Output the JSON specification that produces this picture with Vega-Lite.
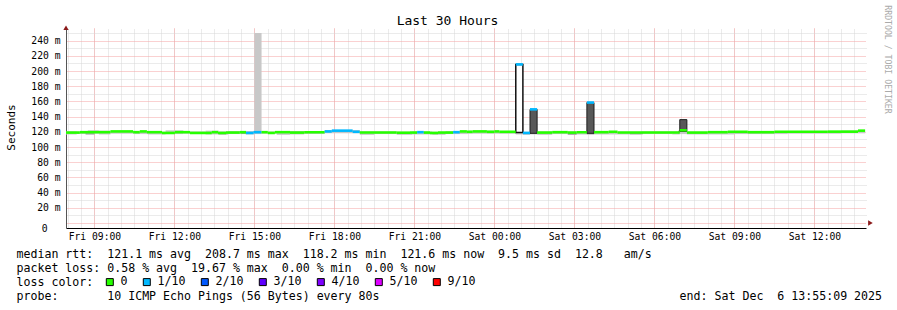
{
  "$schema": "https://vega.github.io/schema/vega-lite/v6.json",
  "width": 800,
  "height": 200,
  "autosize": "none",
  "padding": {"left": 66, "top": 28, "right": 31, "bottom": 82},
  "background": "white",
  "config": {"view": {"stroke": null}, "font": "DejaVu Sans Mono"},
  "datasets": {
    "smoke": [
      {"t0": "2025-12-05T07:56:00Z", "t1": "2025-12-05T08:20:00Z", "lo": 116.5, "hi": 120.5, "shade": "light"},
      {"t0": "2025-12-05T08:20:00Z", "t1": "2025-12-05T08:45:00Z", "lo": 117, "hi": 120, "shade": "light"},
      {"t0": "2025-12-05T08:45:00Z", "t1": "2025-12-05T09:10:00Z", "lo": 117.5, "hi": 122, "shade": "light"},
      {"t0": "2025-12-05T09:10:00Z", "t1": "2025-12-05T09:36:00Z", "lo": 116.5, "hi": 121.5, "shade": "light"},
      {"t0": "2025-12-05T09:36:00Z", "t1": "2025-12-05T10:30:00Z", "lo": 117.5, "hi": 121, "shade": "light"},
      {"t0": "2025-12-05T10:30:00Z", "t1": "2025-12-05T11:00:00Z", "lo": 117, "hi": 120.5, "shade": "light"},
      {"t0": "2025-12-05T11:00:00Z", "t1": "2025-12-05T11:40:00Z", "lo": 116.5, "hi": 120, "shade": "light"},
      {"t0": "2025-12-05T11:40:00Z", "t1": "2025-12-05T12:20:00Z", "lo": 117, "hi": 122, "shade": "light"},
      {"t0": "2025-12-05T12:20:00Z", "t1": "2025-12-05T13:10:00Z", "lo": 117.5, "hi": 120.5, "shade": "light"},
      {"t0": "2025-12-05T13:10:00Z", "t1": "2025-12-05T13:40:00Z", "lo": 116.5, "hi": 121.5, "shade": "light"},
      {"t0": "2025-12-05T13:40:00Z", "t1": "2025-12-05T14:00:00Z", "lo": 116, "hi": 120.5, "shade": "light"},
      {"t0": "2025-12-05T14:00:00Z", "t1": "2025-12-05T14:40:00Z", "lo": 117, "hi": 121, "shade": "light"},
      {"t0": "2025-12-05T14:40:00Z", "t1": "2025-12-05T15:00:00Z", "lo": 116.5, "hi": 121, "shade": "light"},
      {"t0": "2025-12-05T15:00:00Z", "t1": "2025-12-05T15:16:00Z", "lo": 117, "hi": 250, "shade": "light"},
      {"t0": "2025-12-05T15:16:00Z", "t1": "2025-12-05T15:50:00Z", "lo": 117.5, "hi": 120.5, "shade": "light"},
      {"t0": "2025-12-05T15:50:00Z", "t1": "2025-12-05T16:20:00Z", "lo": 116, "hi": 120.5, "shade": "light"},
      {"t0": "2025-12-05T16:20:00Z", "t1": "2025-12-05T16:52:00Z", "lo": 116.5, "hi": 121, "shade": "light"},
      {"t0": "2025-12-05T16:52:00Z", "t1": "2025-12-05T17:38:00Z", "lo": 117, "hi": 121, "shade": "light"},
      {"t0": "2025-12-05T17:38:00Z", "t1": "2025-12-05T18:57:00Z", "lo": 118, "hi": 122.5, "shade": "light"},
      {"t0": "2025-12-05T18:57:00Z", "t1": "2025-12-05T19:30:00Z", "lo": 116, "hi": 120.5, "shade": "light"},
      {"t0": "2025-12-05T19:30:00Z", "t1": "2025-12-05T20:20:00Z", "lo": 117, "hi": 120.5, "shade": "light"},
      {"t0": "2025-12-05T20:20:00Z", "t1": "2025-12-05T20:55:00Z", "lo": 116, "hi": 120, "shade": "light"},
      {"t0": "2025-12-05T20:55:00Z", "t1": "2025-12-05T21:40:00Z", "lo": 116.5, "hi": 120.5, "shade": "light"},
      {"t0": "2025-12-05T21:40:00Z", "t1": "2025-12-05T22:10:00Z", "lo": 116, "hi": 120, "shade": "light"},
      {"t0": "2025-12-05T22:10:00Z", "t1": "2025-12-05T23:00:00Z", "lo": 117, "hi": 121, "shade": "light"},
      {"t0": "2025-12-05T23:00:00Z", "t1": "2025-12-06T00:00:00Z", "lo": 117.5, "hi": 121.5, "shade": "light"},
      {"t0": "2025-12-06T00:00:00Z", "t1": "2025-12-06T00:48:00Z", "lo": 117.5, "hi": 121, "shade": "light"},
      {"t0": "2025-12-06T00:48:00Z", "t1": "2025-12-06T01:04:00Z", "lo": 116.5, "hi": 119.5, "shade": "light"},
      {"t0": "2025-12-06T01:04:00Z", "t1": "2025-12-06T01:20:00Z", "lo": 116, "hi": 120, "shade": "light"},
      {"t0": "2025-12-06T01:20:00Z", "t1": "2025-12-06T01:36:00Z", "lo": 116.5, "hi": 120, "shade": "light"},
      {"t0": "2025-12-06T01:36:00Z", "t1": "2025-12-06T02:10:00Z", "lo": 116, "hi": 120.5, "shade": "light"},
      {"t0": "2025-12-06T02:10:00Z", "t1": "2025-12-06T02:45:00Z", "lo": 117, "hi": 120.5, "shade": "light"},
      {"t0": "2025-12-06T02:45:00Z", "t1": "2025-12-06T03:05:00Z", "lo": 116, "hi": 120.5, "shade": "light"},
      {"t0": "2025-12-06T03:05:00Z", "t1": "2025-12-06T03:28:00Z", "lo": 116.5, "hi": 120.5, "shade": "light"},
      {"t0": "2025-12-06T03:28:00Z", "t1": "2025-12-06T03:44:00Z", "lo": 116, "hi": 120.5, "shade": "light"},
      {"t0": "2025-12-06T03:44:00Z", "t1": "2025-12-06T04:30:00Z", "lo": 116.5, "hi": 120.5, "shade": "light"},
      {"t0": "2025-12-06T04:30:00Z", "t1": "2025-12-06T05:30:00Z", "lo": 116.5, "hi": 120, "shade": "light"},
      {"t0": "2025-12-06T05:30:00Z", "t1": "2025-12-06T06:40:00Z", "lo": 117, "hi": 120.5, "shade": "light"},
      {"t0": "2025-12-06T06:40:00Z", "t1": "2025-12-06T06:57:00Z", "lo": 116.5, "hi": 120.5, "shade": "light"},
      {"t0": "2025-12-06T06:57:00Z", "t1": "2025-12-06T07:13:00Z", "lo": 117, "hi": 121, "shade": "light"},
      {"t0": "2025-12-06T07:13:00Z", "t1": "2025-12-06T08:00:00Z", "lo": 116.5, "hi": 120, "shade": "light"},
      {"t0": "2025-12-06T08:00:00Z", "t1": "2025-12-06T09:00:00Z", "lo": 116.5, "hi": 120.5, "shade": "light"},
      {"t0": "2025-12-06T09:00:00Z", "t1": "2025-12-06T10:00:00Z", "lo": 117, "hi": 120.5, "shade": "light"},
      {"t0": "2025-12-06T10:00:00Z", "t1": "2025-12-06T11:00:00Z", "lo": 117, "hi": 121, "shade": "light"},
      {"t0": "2025-12-06T11:00:00Z", "t1": "2025-12-06T12:00:00Z", "lo": 117.5, "hi": 121, "shade": "light"},
      {"t0": "2025-12-06T12:00:00Z", "t1": "2025-12-06T13:00:00Z", "lo": 117.5, "hi": 121, "shade": "light"},
      {"t0": "2025-12-06T13:00:00Z", "t1": "2025-12-06T13:54:00Z", "lo": 118, "hi": 121.5, "shade": "light"},
      {"t0": "2025-12-05T08:40:00Z", "t1": "2025-12-05T09:00:00Z", "lo": 116.5, "hi": 118, "shade": "dark"},
      {"t0": "2025-12-05T13:38:00Z", "t1": "2025-12-05T13:56:00Z", "lo": 117, "hi": 118.5, "shade": "dark"},
      {"t0": "2025-12-05T14:30:00Z", "t1": "2025-12-05T14:41:00Z", "lo": 117.5, "hi": 119, "shade": "dark"},
      {"t0": "2025-12-06T02:45:00Z", "t1": "2025-12-06T03:05:00Z", "lo": 116.5, "hi": 118, "shade": "dark"},
      {"t0": "2025-12-06T05:05:00Z", "t1": "2025-12-06T05:34:00Z", "lo": 116.8, "hi": 118, "shade": "dark"},
      {"t0": "2025-12-06T06:53:00Z", "t1": "2025-12-06T06:57:00Z", "lo": 118, "hi": 121.5, "shade": "dark"},
      {"t0": "2025-12-06T01:20:00Z", "t1": "2025-12-06T01:36:00Z", "lo": 118, "hi": 149.5, "shade": "spike"},
      {"t0": "2025-12-06T03:28:00Z", "t1": "2025-12-06T03:44:00Z", "lo": 118, "hi": 158.5, "shade": "spike"},
      {"t0": "2025-12-06T06:57:00Z", "t1": "2025-12-06T07:13:00Z", "lo": 120.5, "hi": 136, "shade": "spike"},
      {"t0": "2025-12-06T00:48:00Z", "t1": "2025-12-06T01:04:00Z", "lo": 119, "hi": 208.7, "shade": "outline"}
    ],
    "median": [
      {"t0": "2025-12-05T07:56:00Z", "t1": "2025-12-05T08:27:00Z", "ms": 119, "loss": "0"},
      {"t0": "2025-12-05T08:27:00Z", "t1": "2025-12-05T09:36:00Z", "ms": 119.5, "loss": "0"},
      {"t0": "2025-12-05T09:36:00Z", "t1": "2025-12-05T10:27:00Z", "ms": 120.5, "loss": "0"},
      {"t0": "2025-12-05T10:27:00Z", "t1": "2025-12-05T10:42:00Z", "ms": 119.5, "loss": "0"},
      {"t0": "2025-12-05T10:42:00Z", "t1": "2025-12-05T10:58:00Z", "ms": 120.5, "loss": "0"},
      {"t0": "2025-12-05T10:58:00Z", "t1": "2025-12-05T11:32:00Z", "ms": 119.5, "loss": "0"},
      {"t0": "2025-12-05T11:32:00Z", "t1": "2025-12-05T12:01:00Z", "ms": 118.5, "loss": "0"},
      {"t0": "2025-12-05T12:01:00Z", "t1": "2025-12-05T12:35:00Z", "ms": 119.5, "loss": "0"},
      {"t0": "2025-12-05T12:35:00Z", "t1": "2025-12-05T13:24:00Z", "ms": 118.5, "loss": "0"},
      {"t0": "2025-12-05T13:24:00Z", "t1": "2025-12-05T13:38:00Z", "ms": 119.5, "loss": "0"},
      {"t0": "2025-12-05T13:38:00Z", "t1": "2025-12-05T13:56:00Z", "ms": 118.5, "loss": "0"},
      {"t0": "2025-12-05T13:56:00Z", "t1": "2025-12-05T14:27:00Z", "ms": 119, "loss": "0"},
      {"t0": "2025-12-05T14:27:00Z", "t1": "2025-12-05T14:41:00Z", "ms": 119.5, "loss": "0"},
      {"t0": "2025-12-05T14:41:00Z", "t1": "2025-12-05T14:58:00Z", "ms": 118.5, "loss": "1/10"},
      {"t0": "2025-12-05T14:58:00Z", "t1": "2025-12-05T15:16:00Z", "ms": 119.5, "loss": "1/10"},
      {"t0": "2025-12-05T15:16:00Z", "t1": "2025-12-05T15:30:00Z", "ms": 119.5, "loss": "0"},
      {"t0": "2025-12-05T15:30:00Z", "t1": "2025-12-05T15:46:00Z", "ms": 118.5, "loss": "0"},
      {"t0": "2025-12-05T15:46:00Z", "t1": "2025-12-05T16:20:00Z", "ms": 119.5, "loss": "0"},
      {"t0": "2025-12-05T16:20:00Z", "t1": "2025-12-05T16:52:00Z", "ms": 119, "loss": "0"},
      {"t0": "2025-12-05T16:52:00Z", "t1": "2025-12-05T17:38:00Z", "ms": 119.5, "loss": "0"},
      {"t0": "2025-12-05T17:38:00Z", "t1": "2025-12-05T17:54:00Z", "ms": 120.5, "loss": "1/10"},
      {"t0": "2025-12-05T17:54:00Z", "t1": "2025-12-05T18:41:00Z", "ms": 121.5, "loss": "1/10"},
      {"t0": "2025-12-05T18:41:00Z", "t1": "2025-12-05T18:57:00Z", "ms": 120, "loss": "1/10"},
      {"t0": "2025-12-05T18:57:00Z", "t1": "2025-12-05T20:20:00Z", "ms": 119, "loss": "0"},
      {"t0": "2025-12-05T20:20:00Z", "t1": "2025-12-05T20:50:00Z", "ms": 118.8, "loss": "0"},
      {"t0": "2025-12-05T20:50:00Z", "t1": "2025-12-05T21:06:00Z", "ms": 119, "loss": "0"},
      {"t0": "2025-12-05T21:06:00Z", "t1": "2025-12-05T21:21:00Z", "ms": 119.5, "loss": "1/10"},
      {"t0": "2025-12-05T21:21:00Z", "t1": "2025-12-05T21:35:00Z", "ms": 119, "loss": "0"},
      {"t0": "2025-12-05T21:35:00Z", "t1": "2025-12-05T21:53:00Z", "ms": 118.5, "loss": "0"},
      {"t0": "2025-12-05T21:53:00Z", "t1": "2025-12-05T22:27:00Z", "ms": 119, "loss": "0"},
      {"t0": "2025-12-05T22:27:00Z", "t1": "2025-12-05T22:42:00Z", "ms": 119.5, "loss": "1/10"},
      {"t0": "2025-12-05T22:42:00Z", "t1": "2025-12-05T22:58:00Z", "ms": 120.5, "loss": "0"},
      {"t0": "2025-12-05T22:58:00Z", "t1": "2025-12-05T23:11:00Z", "ms": 120, "loss": "0"},
      {"t0": "2025-12-05T23:11:00Z", "t1": "2025-12-05T23:43:00Z", "ms": 120.5, "loss": "0"},
      {"t0": "2025-12-05T23:43:00Z", "t1": "2025-12-06T00:00:00Z", "ms": 120, "loss": "0"},
      {"t0": "2025-12-06T00:00:00Z", "t1": "2025-12-06T00:11:00Z", "ms": 120.5, "loss": "0"},
      {"t0": "2025-12-06T00:11:00Z", "t1": "2025-12-06T00:48:00Z", "ms": 120, "loss": "0"},
      {"t0": "2025-12-06T00:48:00Z", "t1": "2025-12-06T01:04:00Z", "ms": 208.7, "loss": "1/10"},
      {"t0": "2025-12-06T01:04:00Z", "t1": "2025-12-06T01:20:00Z", "ms": 118.5, "loss": "1/10"},
      {"t0": "2025-12-06T01:20:00Z", "t1": "2025-12-06T01:36:00Z", "ms": 149.5, "loss": "1/10"},
      {"t0": "2025-12-06T01:36:00Z", "t1": "2025-12-06T02:10:00Z", "ms": 119, "loss": "0"},
      {"t0": "2025-12-06T02:10:00Z", "t1": "2025-12-06T02:45:00Z", "ms": 119.5, "loss": "0"},
      {"t0": "2025-12-06T02:45:00Z", "t1": "2025-12-06T03:05:00Z", "ms": 119, "loss": "0"},
      {"t0": "2025-12-06T03:05:00Z", "t1": "2025-12-06T03:28:00Z", "ms": 119.5, "loss": "0"},
      {"t0": "2025-12-06T03:28:00Z", "t1": "2025-12-06T03:44:00Z", "ms": 158.5, "loss": "1/10"},
      {"t0": "2025-12-06T03:44:00Z", "t1": "2025-12-06T04:17:00Z", "ms": 119.5, "loss": "0"},
      {"t0": "2025-12-06T04:17:00Z", "t1": "2025-12-06T04:37:00Z", "ms": 120, "loss": "0"},
      {"t0": "2025-12-06T04:37:00Z", "t1": "2025-12-06T06:57:00Z", "ms": 119, "loss": "0"},
      {"t0": "2025-12-06T06:57:00Z", "t1": "2025-12-06T07:13:00Z", "ms": 122, "loss": "0"},
      {"t0": "2025-12-06T07:13:00Z", "t1": "2025-12-06T08:00:00Z", "ms": 119, "loss": "0"},
      {"t0": "2025-12-06T08:00:00Z", "t1": "2025-12-06T08:45:00Z", "ms": 119.5, "loss": "0"},
      {"t0": "2025-12-06T08:45:00Z", "t1": "2025-12-06T09:30:00Z", "ms": 120, "loss": "0"},
      {"t0": "2025-12-06T09:30:00Z", "t1": "2025-12-06T10:30:00Z", "ms": 119.5, "loss": "0"},
      {"t0": "2025-12-06T10:30:00Z", "t1": "2025-12-06T12:30:00Z", "ms": 120, "loss": "0"},
      {"t0": "2025-12-06T12:30:00Z", "t1": "2025-12-06T13:38:00Z", "ms": 120.2, "loss": "0"},
      {"t0": "2025-12-06T13:38:00Z", "t1": "2025-12-06T13:54:00Z", "ms": 121.5, "loss": "0"}
    ]
  },
  "resolve": {"axis": {"x": "independent", "y": "independent"}},
  "layer": [
    {
      "data": {"name": "smoke"},
      "transform": [{"filter": "datum.shade == 'light'"}],
      "mark": {"type": "rect", "color": "#c8c8c8"},
      "encoding": {
        "x": {
          "field": "t0", "type": "temporal",
          "scale": {"type": "utc", "domain": [1764921360000, 1765029360000]},
          "axis": {
            "orient": "top", "tickCount": 60,
            "labels": false, "ticks": false, "domain": false,
            "grid": true, "gridColor": "#d6d6d6", "gridDash": [1, 1], "gridWidth": 1, "gridOpacity": 1,
            "title": "Last 30 Hours",
            "titleX": 381, "titleY": -8, "titleAlign": "center", "titleBaseline": "middle",
            "titleFont": "DejaVu Sans Mono", "titleFontSize": 13, "titleFontWeight": "normal", "titleColor": "#000"
          }
        },
        "x2": {"field": "t1"},
        "y": {
          "field": "lo", "type": "quantitative",
          "scale": {"domain": [0, 250], "nice": false},
          "axis": {
            "orient": "right",
            "values": [10, 30, 50, 70, 90, 110, 130, 150, 170, 190, 210, 230, 250],
            "labels": false, "ticks": false, "domain": false,
            "grid": true, "gridColor": "#d6d6d6", "gridDash": [1, 1], "gridWidth": 1, "gridOpacity": 1,
            "title": "RRDTOOL / TOBI OETIKER",
            "titleAngle": 90, "titleX": 20, "titleY": 31, "titleAlign": "center", "titleBaseline": "middle",
            "titleFont": "DejaVu Sans Mono", "titleFontSize": 8.2, "titleFontWeight": "normal", "titleColor": "#aaaaaa"
          }
        },
        "y2": {"field": "hi"}
      }
    },
    {
      "data": {"name": "smoke"},
      "transform": [{"filter": "datum.shade == 'dark'"}],
      "mark": {"type": "rect", "color": "#8c8c8c"},
      "encoding": {
        "x": {
          "field": "t0", "type": "temporal",
          "scale": {"type": "utc", "domain": [1764921360000, 1765029360000]},
          "axis": {
            "orient": "bottom", "tickCount": 10,
            "labelExpr": "utcFormat(datum.value, '%a %H:%M')",
            "labelFlush": false, "labelOverlap": false,
            "labelFont": "DejaVu Sans Mono", "labelFontSize": 9.7, "labelColor": "#000", "labelPadding": 3,
            "ticks": false,
            "domainColor": "#000", "domainWidth": 1,
            "grid": true, "gridColor": "#f4a3a3", "gridDash": [1, 1], "gridWidth": 1, "gridOpacity": 1,
            "title": [
              "median rtt:\u00a0\u00a0121.1 ms avg\u00a0\u00a0208.7 ms max\u00a0\u00a0118.2 ms min\u00a0\u00a0121.6 ms now\u00a0\u00a09.5 ms sd\u00a0\u00a012.8\u00a0\u00a0\u00a0am/s",
              "packet loss: 0.58 % avg\u00a0\u00a019.67 % max\u00a0\u00a00.00 % min\u00a0\u00a00.00 % now",
              "loss color:",
              "probe:\u00a0\u00a0\u00a0\u00a0\u00a0\u00a0\u00a010 ICMP Echo Pings (56 Bytes) every 80s\u00a0\u00a0\u00a0\u00a0\u00a0\u00a0\u00a0\u00a0\u00a0\u00a0\u00a0\u00a0\u00a0\u00a0\u00a0\u00a0\u00a0\u00a0\u00a0\u00a0\u00a0\u00a0\u00a0\u00a0\u00a0\u00a0\u00a0\u00a0\u00a0\u00a0\u00a0\u00a0\u00a0\u00a0\u00a0\u00a0\u00a0\u00a0\u00a0\u00a0\u00a0\u00a0\u00a0end: Sat Dec\u00a0\u00a06 13:55:09 2025"
            ],
            "titleX": -50, "titleY": 20, "titleAlign": "left", "titleAnchor": "start", "titleBaseline": "top",
            "titleFont": "DejaVu Sans Mono", "titleFontSize": 11.6, "titleFontWeight": "normal", "titleColor": "#000", "titleLineHeight": 14
          }
        },
        "x2": {"field": "t1"},
        "y": {
          "field": "lo", "type": "quantitative",
          "scale": {"domain": [0, 250], "nice": false},
          "axis": {
            "orient": "left",
            "values": [0, 20, 40, 60, 80, 100, 120, 140, 160, 180, 200, 220, 240],
            "labelExpr": "datum.value == 0 ? '' : datum.value + ' m'",
            "labelFont": "DejaVu Sans Mono", "labelFontSize": 9.7, "labelColor": "#000", "labelPadding": 6, "labelOverlap": false, "labelFlush": false,
            "ticks": false,
            "domainColor": "#555", "domainWidth": 1,
            "grid": true, "gridColor": "#f4a3a3", "gridDash": [1, 1], "gridWidth": 1, "gridOpacity": 1,
            "title": "Seconds",
            "titleX": -55, "titleY": 99, "titleAngle": 270, "titleAlign": "center", "titleBaseline": "middle",
            "titleFont": "DejaVu Sans Mono", "titleFontSize": 11, "titleFontWeight": "normal", "titleColor": "#000"
          }
        },
        "y2": {"field": "hi"}
      }
    },
    {
      "data": {"name": "smoke"},
      "transform": [{"filter": "datum.shade == 'spike'"}],
      "mark": {"type": "rect", "fill": "#585858", "stroke": "#1e1e1e", "strokeWidth": 1},
      "encoding": {
        "x": {"field": "t0", "type": "temporal", "scale": {"type": "utc", "domain": [1764921360000, 1765029360000]}, "axis": null},
        "x2": {"field": "t1"},
        "y": {"field": "lo", "type": "quantitative", "scale": {"domain": [0, 250], "nice": false}, "axis": null},
        "y2": {"field": "hi"}
      }
    },
    {
      "data": {"name": "smoke"},
      "transform": [{"filter": "datum.shade == 'outline'"}],
      "mark": {"type": "rect", "fill": "#ffffff", "stroke": "#111111", "strokeWidth": 1.5},
      "encoding": {
        "x": {"field": "t0", "type": "temporal", "scale": {"type": "utc", "domain": [1764921360000, 1765029360000]}, "axis": null},
        "x2": {"field": "t1"},
        "y": {"field": "lo", "type": "quantitative", "scale": {"domain": [0, 250], "nice": false}, "axis": null},
        "y2": {"field": "hi"}
      }
    },
    {
      "data": {"name": "median"},
      "mark": {"type": "bar", "orient": "horizontal", "size": 2.6, "cornerRadius": 0},
      "encoding": {
        "x": {"field": "t0", "type": "temporal", "scale": {"type": "utc", "domain": [1764921360000, 1765029360000]}, "axis": null},
        "x2": {"field": "t1"},
        "y": {"field": "ms", "type": "quantitative", "scale": {"domain": [0, 250], "nice": false}, "axis": null},
        "color": {
          "field": "loss", "type": "nominal",
          "scale": {"domain": ["0", "1/10", "2/10", "3/10", "4/10", "5/10", "9/10"], "range": ["#26ff00", "#00b8ff", "#0059ff", "#5e00ff", "#7e00ff", "#dd00ff", "#ff0000"]},
          "legend": {
            "orient": "none", "legendX": 38, "legendY": 248, "direction": "horizontal", "columns": 7,
            "title": null,
            "labelFont": "DejaVu Sans Mono", "labelFontSize": 11.6, "labelColor": "#000", "labelOffset": 5,
            "symbolType": "square", "symbolSize": 49, "symbolStrokeWidth": 1, "symbolStrokeColor": "#000", "symbolOpacity": 1,
            "columnPadding": 13
          }
        }
      }
    },
    {
      "data": {"values": [{"t": "2025-12-05T07:56:00Z", "v": 257}]},
      "mark": {"type": "point", "shape": "triangle-up", "filled": true, "color": "#8b1a1a", "size": 28, "opacity": 1, "clip": false},
      "encoding": {
        "x": {"field": "t", "type": "temporal", "scale": {"type": "utc", "domain": [1764921360000, 1765029360000]}, "axis": null},
        "y": {
          "field": "v", "type": "quantitative", "scale": {"domain": [0, 250], "nice": false},
          "axis": {
            "orient": "left", "values": [0], "labelExpr": "'0'",
            "labelFont": "DejaVu Sans Mono", "labelFontSize": 9.7, "labelColor": "#000", "labelPadding": 19, "labelFlush": false, "labelOffset": 5,
            "ticks": false, "domain": false, "grid": false, "title": null
          }
        }
      }
    },
    {
      "data": {"values": [{"t": "2025-12-06T14:06:00Z", "v": 0}]},
      "mark": {"type": "point", "shape": "triangle-right", "filled": true, "color": "#8b1a1a", "size": 28, "opacity": 1, "clip": false},
      "encoding": {
        "x": {"field": "t", "type": "temporal", "scale": {"type": "utc", "domain": [1764921360000, 1765029360000]}, "axis": null},
        "y": {"field": "v", "type": "quantitative", "scale": {"domain": [0, 250], "nice": false}, "axis": null}
      }
    }
  ]
}
